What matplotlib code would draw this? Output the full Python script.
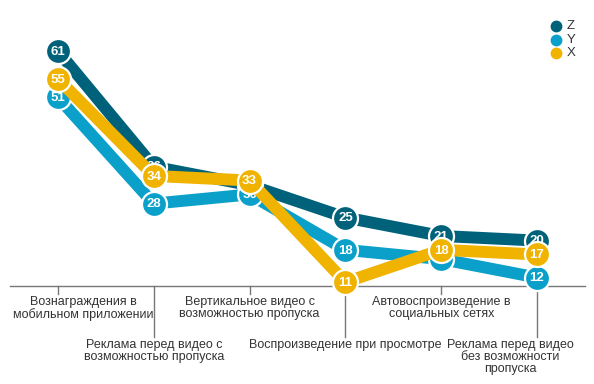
import matplotlib as mpl
import matplotlib.pyplot as plt
import numpy as np

plt.rcParams['font.family'] = ['Liberation Sans', 'DejaVu Sans']

categories = ["Вознаграждения в\nмобильном приложении",
              "Реклама перед видео с\nвозможностью пропуска",
              "Вертикальное видео с\nвозможностью пропуска",
              "Воспроизведение при просмотре",
              "Автовоспроизведение в\nсоциальных сетях",
              "Реклама перед видео\nбез возможности\nпропуска"]
series_names = ["Z", "Y", "X"]
z_vals = [61, 36, 32, 25, 21, 20]
y_vals = [51, 28, 30, 18, 16, 12]
x_vals = [55, 34, 33, 11, 18, 17]
colors = ["#00627a", "#0aa0c9", "#efb300"]

# pixel layout: category 0 at 58px, 95.8px per category; value 0 at 333px, 4.62px per unit
PX0, PXU = 58, 95.8
PY0, PYU = 333, 4.62


def dx(px):
    return (px - PX0) / PXU


def dy(py):
    return (PY0 - py) / PYU


fig = plt.figure(figsize=(5.94, 3.84), dpi=100)
ax = fig.add_axes([0, 0, 1, 1])
ax.set_xlim(dx(0), dx(594))
ax.set_ylim(dy(384), dy(0))
ax.axis("off")

xs = np.arange(len(categories))

# category axis
base = dy(286)
ax.plot([dx(10), dx(585)], [base, base], color="#777777", lw=1, zorder=1)
for i, lab in enumerate(categories):
    if i % 2 == 0:
        end, ty = dy(294), dy(296)
    else:
        end, ty = dy(337), dy(339)
    ax.plot([i, i], [base, end], color="#777777", lw=1, zorder=1)
    tx, ha = i, "center"
    if i == 0:
        tx, ha = dx(13), "left"
    elif i == len(categories) - 1:
        tx, ha = dx(574), "right"
    ax.text(tx, ty, lab, ha=ha, va="top", fontsize=9, color="#333333",
            linespacing=1.0, multialignment="center")

for k, (name, vals) in enumerate(zip(series_names, [z_vals, y_vals, x_vals])):
    c = colors[k]
    z = 2 + k * 2
    ax.plot(xs, vals, color=c, lw=8.6, solid_capstyle="butt", zorder=z)
    ax.scatter(xs, vals, s=18 ** 2, color=c, edgecolors="white", linewidths=1.6, zorder=z + 0.5)
    for xi, v in zip(xs, vals):
        ax.text(xi, v - 0.15, str(v), ha="center", va="center", fontsize=9.5, fontweight="bold",
                color="white", zorder=z + 0.6)

# legend
for k, name in enumerate(series_names):
    ly = [26, 40, 53][k]
    ax.scatter([dx(556)], [dy(ly)], s=8.5 ** 2, color=colors[k], linewidths=0, zorder=10)
    ax.text(dx(567), dy(ly), name, ha="left", va="center",
            fontsize=9.5, color="#333333")

fig.savefig("out.png", dpi=100)
